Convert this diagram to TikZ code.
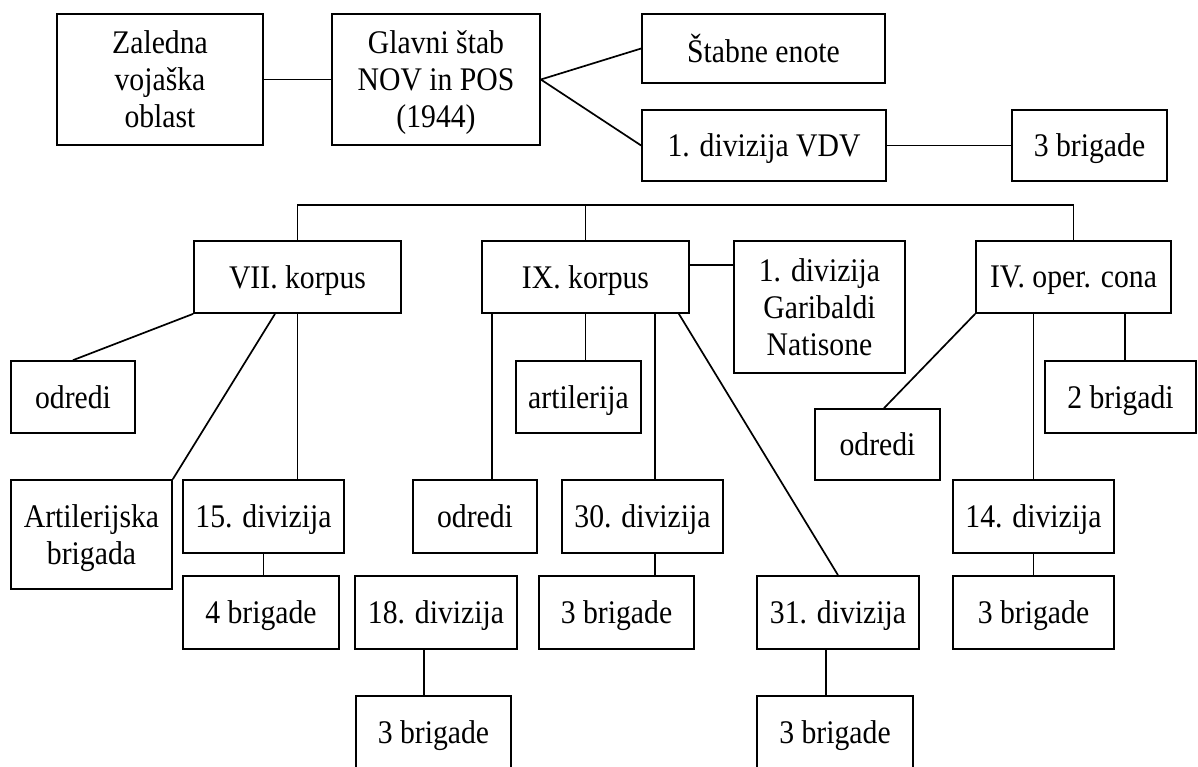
\documentclass[tikz,border=0pt]{standalone}
\usepackage{fontspec}
\setmainfont{Liberation Serif}[FakeStretch=0.9]
\newcommand\bx[6]{%
  \pgfmathsetmacro\bxcx{(#2+#4)/2}%
  \pgfmathsetmacro\bxcy{(#3+#5)/2}%
  \pgfmathsetmacro\bxw{(#4-#2)*0.5}%
  \pgfmathsetmacro\bxh{(#5-#3)*0.5}%
  \node[box,minimum width=\bxw pt,minimum height=\bxh pt] (#1) at (\bxcx,\bxcy) {#6};}
\begin{document}
\begin{tikzpicture}[x=0.5pt,y=-0.5pt,
  box/.style={draw,line width=0.85pt,inner sep=0pt,text depth=0pt,align=center,font=\fontsize{16.5}{18.5}\selectfont},
  conn/.style={line width=0.85pt}]
\fill[white] (0,0) rectangle (1198,766);
\useasboundingbox (0,0) rectangle (1198,766);
\bx{zal}{57}{14}{263}{145}{Zaledna\\vojaška\\oblast}
\bx{gs}{332}{14}{540}{145}{Glavni štab\\NOV in POS\\(1944)}
\bx{se}{642}{14}{885}{83}{Štabne enote}
\bx{vdv}{642}{110}{886}{181}{1. divizija VDV}
\bx{b1}{1012}{110}{1167}{181}{3 brigade}
\bx{k7}{194}{241}{401}{313}{VII. korpus}
\bx{k9}{482}{241}{689}{313}{IX. korpus}
\bx{gar}{734}{241}{905}{373}{1. divizija\\Garibaldi\\Natisone}
\bx{oc}{976}{241}{1171}{313}{IV. oper. cona}
\bx{od1}{11}{361}{135}{433}{odredi}
\bx{art}{516}{361}{641}{433}{artilerija}
\bx{b2}{1045}{361}{1196}{433}{2 brigadi}
\bx{od3}{815}{409}{940}{480}{odredi}
\bx{ab}{11}{480}{172}{589}{Artilerijska\\brigada}
\bx{d15}{183}{480}{344}{553}{15. divizija}
\bx{od2}{413}{480}{537}{553}{odredi}
\bx{d30}{562}{480}{723}{553}{30. divizija}
\bx{d14}{953}{480}{1114}{553}{14. divizija}
\bx{b4}{183}{576}{339}{649}{4 brigade}
\bx{d18}{355}{576}{517}{649}{18. divizija}
\bx{b30}{539}{576}{694}{649}{3 brigade}
\bx{d31}{757}{576}{919}{649}{31. divizija}
\bx{b14}{953}{576}{1114}{649}{3 brigade}
\bx{b18}{356}{696}{511}{768}{3 brigade}
\bx{b31}{757}{696}{913}{768}{3 brigade}
% top connectors
\draw[conn] (zal.east) -- (gs.west);
\draw[conn] (gs.east) -- (se.west);
\draw[conn] (gs.east) -- (vdv.west);
\draw[conn] (vdv.east) -- (b1.west);
% bus
\coordinate (bus) at (0,205);
\draw[conn] (k7.north) |- (oc.north |- bus) -- (oc.north);
\draw[conn] (k9.north) -- (k9.north |- bus);
\coordinate (gy) at (0,265);
\draw[conn] (k9.east |- gy) -- (gar.west |- gy);
% VII. korpus
\draw[conn] (k7.south west) -- (od1.north);
\draw[conn] ([xshift=-11.25pt]k7.south) -- (ab.north east);
\draw[conn] (k7.south) -- (k7.south |- d15.north);
\draw[conn] (d15.south) -- (d15.south |- b4.north);
% IX. korpus
\draw[conn] ([xshift=5.5pt]k9.south west) coordinate (p1) -- (p1 |- od2.north);
\draw[conn] (k9.south) -- (k9.south |- art.north);
\draw[conn] ([xshift=-17.5pt]k9.south east) coordinate (p2) -- (p2 |- d30.north);
\draw[conn] (d30.south -| p2) -- (p2 |- b30.north);
\draw[conn] ([xshift=-5.5pt]k9.south east) -- (d31.north);
\draw[conn] ([xshift=-6pt]d18.south) coordinate (p3) -- (p3 |- b18.north);
\draw[conn] ([xshift=-6pt]d31.south) coordinate (p4) -- (p4 |- b31.north);
% IV. oper. cona
\draw[conn] (oc.south west) -- ([xshift=3.25pt]od3.north);
\draw[conn] (d14.north) -- (d14.north |- oc.south);
\draw[conn] ([xshift=2.25pt]b2.north) coordinate (p5) -- (p5 |- oc.south);
\draw[conn] (d14.south) -- (b14.north);
\end{tikzpicture}
\end{document}
